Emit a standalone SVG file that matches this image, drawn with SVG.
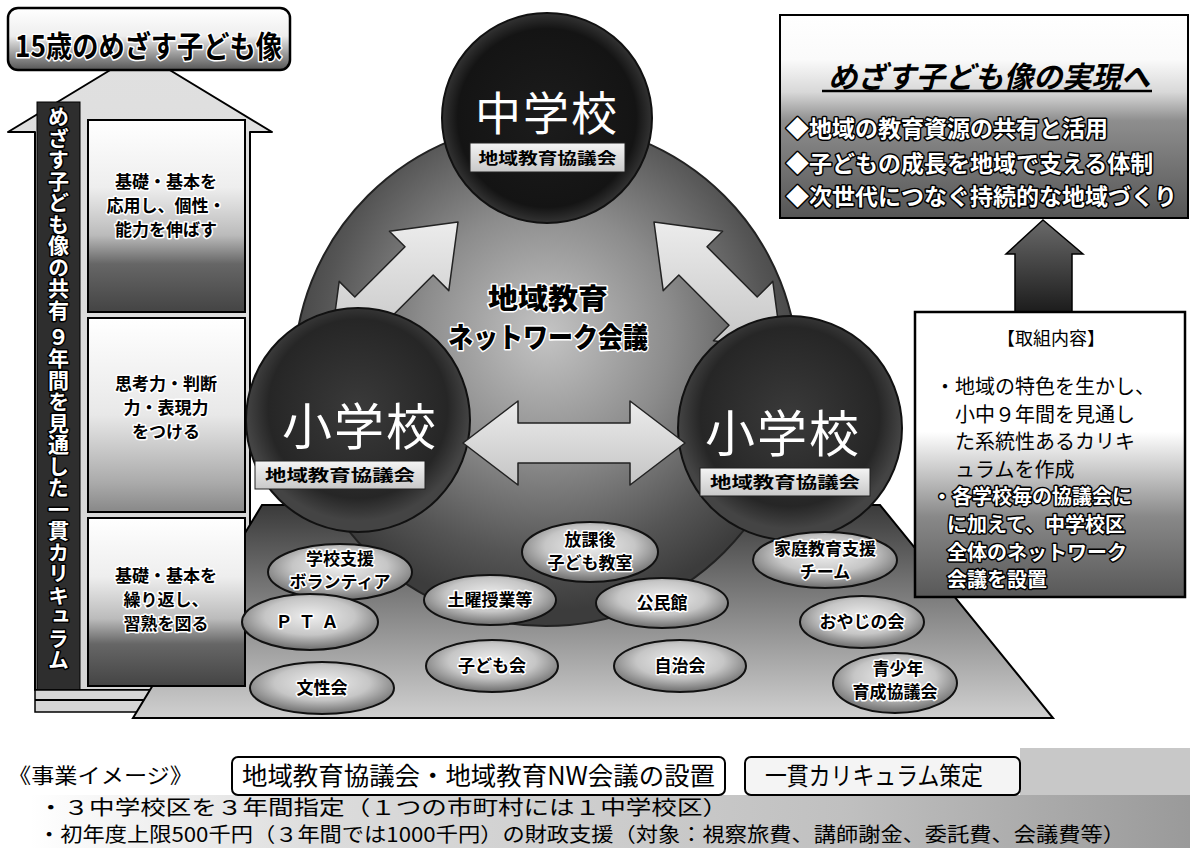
<svg xmlns="http://www.w3.org/2000/svg" width="1190" height="848" viewBox="0 0 1190 848">
<defs>
<style>
.jp{font-family:"Noto Sans CJK JP","Noto Sans CJK SC",sans-serif}
.b{font-weight:700}
.halo{paint-order:stroke;stroke:#fff;stroke-width:3;stroke-linejoin:round}
.wt{fill:#fff;paint-order:stroke;stroke:#000;stroke-width:3;stroke-linejoin:round}
.ln{fill:none;stroke:#000;stroke-width:2}
.oval{fill:url(#gOval);stroke:#111;stroke-width:2}
.otx{font-family:"Noto Sans CJK JP",sans-serif;font-weight:700;font-size:17px;text-anchor:middle;fill:#000;paint-order:stroke;stroke:#fff;stroke-width:3;stroke-linejoin:round}
.lab{fill:url(#gLab);stroke:#222;stroke-width:1}
.ltx{font-family:"Noto Sans CJK JP",sans-serif;font-weight:700;font-size:16px;text-anchor:middle;fill:#000}
.btx{font-family:"Noto Sans CJK JP",sans-serif;font-weight:700;font-size:17px;text-anchor:middle;fill:#000;paint-order:stroke;stroke:#fff;stroke-width:3;stroke-linejoin:round}
.rtx{font-family:"Noto Sans CJK JP",sans-serif;font-size:20px;fill:#000}
.rw{font-weight:700;fill:#fff;paint-order:stroke;stroke:#000;stroke-width:3;stroke-linejoin:round}
.arrow{fill:url(#gArr);stroke:#222;stroke-width:1.5;stroke-linejoin:round}
</style>
<linearGradient id="gTitle" x1="0" y1="0" x2="0" y2="1">
<stop offset="0" stop-color="#fff"/><stop offset="0.45" stop-color="#eee"/><stop offset="0.75" stop-color="#999"/><stop offset="1" stop-color="#555"/>
</linearGradient>
<linearGradient id="gBigArrow" x1="0" y1="0" x2="0" y2="1">
<stop offset="0" stop-color="#e0e0e0"/><stop offset="1" stop-color="#d4d4d4"/>
</linearGradient>
<linearGradient id="gBox" x1="0" y1="0" x2="0" y2="1">
<stop offset="0" stop-color="#fff"/><stop offset="0.35" stop-color="#eee"/><stop offset="0.6" stop-color="#bbb"/><stop offset="0.75" stop-color="#666"/><stop offset="1" stop-color="#444"/>
</linearGradient>
<linearGradient id="gBox2" x1="0" y1="0" x2="0" y2="1">
<stop offset="0" stop-color="#fff"/><stop offset="0.5" stop-color="#e8e8e8"/><stop offset="0.85" stop-color="#aaa"/><stop offset="1" stop-color="#888"/>
</linearGradient>
<radialGradient id="gDome" cx="0.5" cy="0.42" r="0.55">
<stop offset="0" stop-color="#c4c4c4"/><stop offset="0.45" stop-color="#8c8c8c"/><stop offset="0.8" stop-color="#555"/><stop offset="1" stop-color="#3c3c3c"/>
</radialGradient>
<radialGradient id="gTop" cx="0.5" cy="0.5" r="0.5">
<stop offset="0" stop-color="#1c1c1c"/><stop offset="0.85" stop-color="#141414"/><stop offset="1" stop-color="#333"/>
</radialGradient>
<radialGradient id="gSmall" cx="0.5" cy="0.45" r="0.5">
<stop offset="0" stop-color="#3a3a3a"/><stop offset="0.8" stop-color="#262626"/><stop offset="1" stop-color="#444"/>
</radialGradient>
<linearGradient id="gArr" x1="0" y1="0" x2="0" y2="1">
<stop offset="0" stop-color="#ececec"/><stop offset="1" stop-color="#c4c4c4"/>
</linearGradient>
<linearGradient id="gLab" x1="0" y1="0" x2="0" y2="1">
<stop offset="0" stop-color="#f4f4f4"/><stop offset="1" stop-color="#c8c8c8"/>
</linearGradient>
<linearGradient id="gPlat" x1="0" y1="0" x2="0" y2="1">
<stop offset="0" stop-color="#3a3a3a"/><stop offset="0.35" stop-color="#707070"/><stop offset="1" stop-color="#d0d0d0"/>
</linearGradient>
<radialGradient id="gOval" cx="0.5" cy="0.4" r="0.6">
<stop offset="0" stop-color="#eee"/><stop offset="0.55" stop-color="#c6c6c6"/><stop offset="1" stop-color="#6c6c6c"/>
</radialGradient>
<linearGradient id="gRT" x1="0" y1="0" x2="0" y2="1">
<stop offset="0" stop-color="#fff"/><stop offset="0.22" stop-color="#fafafa"/><stop offset="0.38" stop-color="#d8d8d8"/><stop offset="0.52" stop-color="#8e8e8e"/><stop offset="1" stop-color="#555"/>
</linearGradient>
<linearGradient id="gRB" x1="0" y1="0" x2="0" y2="1">
<stop offset="0" stop-color="#fff"/><stop offset="0.42" stop-color="#fff"/><stop offset="0.55" stop-color="#ccc"/><stop offset="0.72" stop-color="#888"/><stop offset="1" stop-color="#585858"/>
</linearGradient>
<linearGradient id="gUp" x1="0" y1="0" x2="0" y2="1">
<stop offset="0" stop-color="#6a6a6a"/><stop offset="1" stop-color="#1c1c1c"/>
</linearGradient>
<linearGradient id="gBot" x1="0" y1="0" x2="1" y2="0">
<stop offset="0" stop-color="#fff"/><stop offset="0.25" stop-color="#dcdcdc"/><stop offset="0.7" stop-color="#c0c0c0"/><stop offset="1" stop-color="#9a9a9a"/>
</linearGradient>
</defs>

<rect width="1190" height="848" fill="#fff"/>

<!-- left column: big up arrow -->
<g id="curriculum-arrow">
<polygon points="140,52 272,132 250,132 250,690 35,690 35,132 8,132" fill="url(#gBigArrow)" stroke="#000" stroke-width="2" stroke-linejoin="round"/>
<rect x="37" y="102" width="43" height="588" fill="#2e2e2e" stroke="#000" stroke-width="1"/>
<text class="jp b wt" x="58.5" y="106" font-size="21" style="writing-mode:vertical-rl;letter-spacing:0.5px">めざす子ども像の共有 ９年間を見通した一貫カリキュラム</text>
<rect x="35" y="690" width="230" height="22" fill="#d6d6d6" stroke="#000" stroke-width="1.5"/>
<line class="ln" x1="35" y1="700" x2="265" y2="700" stroke-width="1"/>
</g>

<!-- title -->
<g id="title">
<rect x="8" y="8" width="282" height="62" rx="10" fill="url(#gTitle)" stroke="#000" stroke-width="2.5"/>
<text class="jp b halo" x="15" y="57" font-size="30" textLength="267" lengthAdjust="spacingAndGlyphs">15歳のめざす子ども像</text>
</g>

<!-- platform -->
<g id="platform">
<polygon points="262,505 880,505 1053,718 133,718" fill="url(#gPlat)" stroke="#000" stroke-width="2"/>
</g>

<!-- dome -->
<g id="network-meeting">
<circle cx="546" cy="374" r="252" fill="url(#gDome)" stroke="#222" stroke-width="2"/>
</g>

<g id="connectors">
<polygon class="arrow" points="330,350 398.6,340.8 383,325.2 433.2,275 448.8,290.6 458,222 389.4,231.2 405,246.8 354.8,297 339.2,281.4"/>
<polygon class="arrow" points="782,350 713.4,340.8 729,325.2 678.8,275 663.2,290.6 654,222 722.6,231.2 707,246.8 757.2,297 772.8,281.4"/>
</g>

<g id="network-label">
<text class="jp halo" font-size="28" font-weight="900" text-anchor="middle"><tspan x="548" y="309" textLength="120" lengthAdjust="spacingAndGlyphs">地域教育</tspan><tspan x="548" y="348" textLength="200" lengthAdjust="spacingAndGlyphs">ネットワーク会議</tspan></text>
</g>

<g id="junior-high">
<circle cx="547" cy="118" r="105" fill="url(#gTop)" stroke="#111" stroke-width="2"/>
<text class="jp" x="547" y="130" font-size="46" fill="#fff" text-anchor="middle" letter-spacing="2">中学校</text>
<rect class="lab" x="470" y="143" width="155" height="29"/>
<text class="ltx" x="547.5" y="164" textLength="138" lengthAdjust="spacingAndGlyphs">地域教育協議会</text>
</g>

<g id="elementary-left">
<circle cx="358" cy="420" r="112" fill="url(#gSmall)" stroke="#111" stroke-width="2"/>
<text class="jp" x="360" y="445" font-size="50" fill="#fff" text-anchor="middle" letter-spacing="2">小学校</text>
<rect class="lab" x="255" y="461" width="170" height="28"/>
<text class="ltx" x="340" y="481" textLength="150" lengthAdjust="spacingAndGlyphs">地域教育協議会</text>
</g>

<g id="elementary-right">
<circle cx="790" cy="428" r="112" fill="url(#gSmall)" stroke="#111" stroke-width="2"/>
<text class="jp" x="783" y="452" font-size="50" fill="#fff" text-anchor="middle" letter-spacing="2">小学校</text>
<rect class="lab" x="700" y="468" width="170" height="28"/>
<text class="ltx" x="785" y="488" textLength="150" lengthAdjust="spacingAndGlyphs">地域教育協議会</text>
</g>

<g id="connectors-h">
<polygon class="arrow" points="463,443 518,401 518,423 630,423 630,401 685,443 630,485 630,463 518,463 518,485"/>
</g>

<!-- stage boxes -->
<g id="stage-3">
<rect x="88" y="120" width="157" height="192" fill="url(#gBox)" stroke="#000" stroke-width="2"/>
<text class="btx"><tspan x="166" y="188">基礎・基本を</tspan><tspan x="166" y="212">応用し、個性・</tspan><tspan x="166" y="236">能力を伸ばす</tspan></text>
</g>
<g id="stage-2">
<rect x="88" y="318" width="157" height="194" fill="url(#gBox2)" stroke="#000" stroke-width="2"/>
<text class="btx"><tspan x="166" y="390">思考力・判断</tspan><tspan x="166" y="414">力・表現力</tspan><tspan x="166" y="438">をつける</tspan></text>
</g>
<g id="stage-1">
<rect x="88" y="518" width="157" height="168" fill="url(#gBox)" stroke="#000" stroke-width="2"/>
<text class="btx"><tspan x="166" y="582">基礎・基本を</tspan><tspan x="166" y="606">繰り返し、</tspan><tspan x="166" y="630">習熟を図る</tspan></text>
</g>

<!-- community ovals -->
<g id="o-volunteer"><ellipse class="oval" cx="340" cy="572" rx="72" ry="28"/><text class="otx"><tspan x="340" y="565">学校支援</tspan><tspan x="340" y="588">ボランティア</tspan></text></g>
<g id="o-afterschool"><ellipse class="oval" cx="590" cy="552" rx="68" ry="30"/><text class="otx"><tspan x="590" y="546">放課後</tspan><tspan x="590" y="569">子ども教室</tspan></text></g>
<g id="o-family"><ellipse class="oval" cx="825" cy="560" rx="72" ry="28"/><text class="otx"><tspan x="825" y="555">家庭教育支援</tspan><tspan x="825" y="578">チーム</tspan></text></g>
<g id="o-pta"><ellipse class="oval" cx="310" cy="622" rx="68" ry="28"/><text class="otx" x="310" y="628" letter-spacing="6">ＰＴＡ</text></g>
<g id="o-saturday"><ellipse class="oval" cx="490" cy="600" rx="66" ry="25"/><text class="otx" x="490" y="606">土曜授業等</text></g>
<g id="o-kominkan"><ellipse class="oval" cx="662" cy="603" rx="66" ry="25"/><text class="otx" x="662" y="609">公民館</text></g>
<g id="o-oyaji"><ellipse class="oval" cx="862" cy="622" rx="62" ry="26"/><text class="otx" x="862" y="628">おやじの会</text></g>
<g id="o-women"><ellipse class="oval" cx="322" cy="688" rx="72" ry="26"/><text class="otx" x="322" y="694">文性会</text></g>
<g id="o-kodomo"><ellipse class="oval" cx="492" cy="666" rx="66" ry="26"/><text class="otx" x="492" y="672">子ども会</text></g>
<g id="o-jichi"><ellipse class="oval" cx="680" cy="666" rx="66" ry="26"/><text class="otx" x="680" y="672">自治会</text></g>
<g id="o-youth"><ellipse class="oval" cx="895" cy="683" rx="62" ry="30"/><text class="otx"><tspan x="898" y="675">青少年</tspan><tspan x="895" y="698">育成協議会</tspan></text></g>

<!-- right side -->
<g id="goal">
<rect x="780" y="15" width="408" height="203" fill="url(#gRT)" stroke="#000" stroke-width="2"/>
<text class="jp b" x="828" y="88" font-size="30" font-style="italic" textLength="322" lengthAdjust="spacingAndGlyphs">めざす子ども像の実現へ</text>
<line x1="822" y1="91" x2="1152" y2="91" stroke="#000" stroke-width="2.5"/>
<text class="jp b wt" font-size="23"><tspan x="786" y="137">◆地域の教育資源の共有と活用</tspan><tspan x="786" y="172">◆子どもの成長を地域で支える体制</tspan><tspan x="786" y="205">◆次世代につなぐ持続的な地域づくり</tspan></text>
</g>

<g id="up-arrow">
<polygon points="1043,220 1083,254 1072,254 1072,312 1015,312 1015,254 1006,254" fill="url(#gUp)" stroke="#000" stroke-width="1.5"/>
</g>

<g id="initiatives">
<rect x="915" y="312" width="270" height="285" fill="url(#gRB)" stroke="#000" stroke-width="2.5"/>
<text class="jp" x="1051" y="345" font-size="18" text-anchor="middle">【取組内容】</text>
<text class="rtx"><tspan x="935" y="394">・地域の特色を生かし、</tspan><tspan x="955" y="421.6">小中９年間を見通し</tspan><tspan x="955" y="449.2">た系統性あるカリキ</tspan><tspan x="955" y="476.8">ュラムを作成</tspan><tspan class="rw" x="932" y="504.4">・各学校毎の協議会に</tspan><tspan class="rw" x="947" y="532">に加えて、中学校区</tspan><tspan class="rw" x="947" y="559.6">全体のネットワーク</tspan><tspan class="rw" x="947" y="587.2">会議を設置</tspan></text>
</g>

<!-- bottom -->
<g id="project-image">
<rect x="30" y="795" width="1160" height="53" fill="url(#gBot)"/>
<rect x="1020" y="748" width="170" height="47" fill="#c8c8c8"/>
<text class="jp" x="8" y="783" font-size="21" textLength="185" lengthAdjust="spacingAndGlyphs">《事業イメージ》</text>
<rect x="232" y="757" width="493" height="38" rx="6" fill="#fff" stroke="#000" stroke-width="2"/>
<text class="jp" x="242" y="785" font-size="25" textLength="473" lengthAdjust="spacingAndGlyphs">地域教育協議会・地域教育NW会議の設置</text>
<rect x="745" y="757" width="275" height="38" rx="6" fill="#f4f4f4" stroke="#000" stroke-width="2"/>
<text class="jp" x="765" y="785" font-size="25" textLength="218" lengthAdjust="spacingAndGlyphs">一貫カリキュラム策定</text>
<text class="jp" font-size="20"><tspan x="38" y="815" textLength="690" lengthAdjust="spacingAndGlyphs">・３中学校区を３年間指定（１つの市町村には１中学校区）</tspan><tspan x="38" y="842" textLength="1087" lengthAdjust="spacingAndGlyphs">・初年度上限500千円（３年間では1000千円）の財政支援（対象：視察旅費、講師謝金、委託費、会議費等）</tspan></text>
</g>
</svg>
